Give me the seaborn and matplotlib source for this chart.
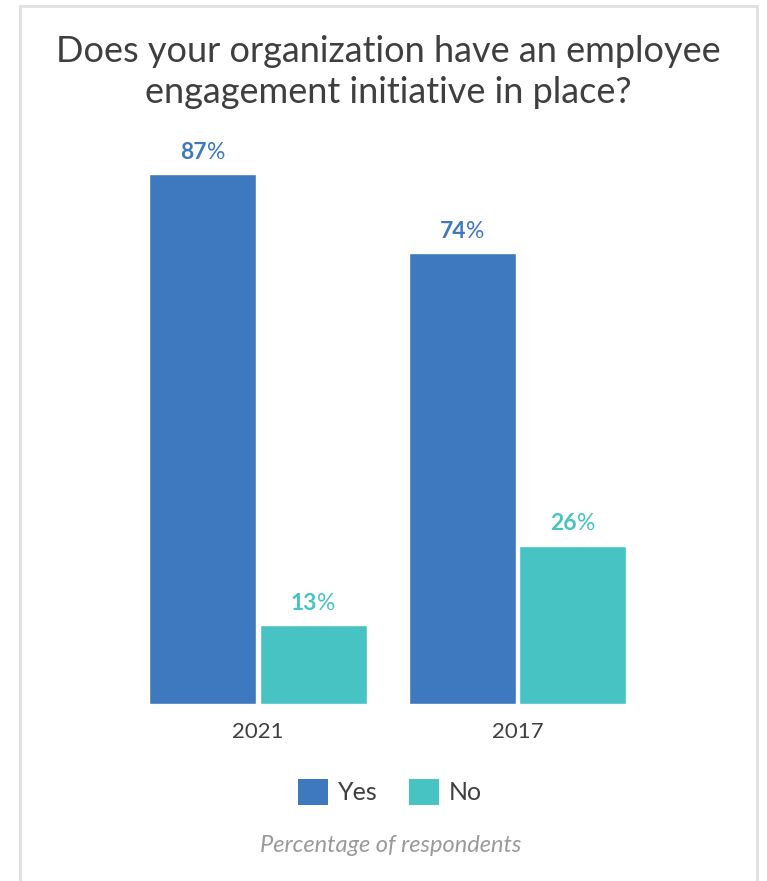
import matplotlib
matplotlib.use("Agg")
import matplotlib.pyplot as plt
import seaborn as sns
import pandas as pd
from matplotlib.patches import Rectangle

years = ["2021", "2017"]
answers = ["Yes", "No"]
yes_values = [87, 74]
no_values = [13, 26]
colors = {"Yes": "#3e79bf", "No": "#47c3c3"}

rows = []
for y, v in zip(years, yes_values):
    rows.append({"year": y, "answer": "Yes", "pct": v})
for y, v in zip(years, no_values):
    rows.append({"year": y, "answer": "No", "pct": v})
df = pd.DataFrame(rows)

sns.set_style("white")
plt.rcParams["font.family"] = ["Lato", "DejaVu Sans"]
TEXT = "#3f3f3f"

W, H, DPI = 767, 881, 100
fig = plt.figure(figsize=(W / DPI, H / DPI), dpi=DPI)
fig.patch.set_facecolor("white")

# border (open at the bottom)
fig.add_artist(Rectangle((20 / W, -0.05), 737 / W, 1.05 - 6 / H, transform=fig.transFigure,
                         fill=False, edgecolor="#e2e2e2", linewidth=2.2))

ax = fig.add_axes([0, 1 - 704 / H, 1, 609 / H])
sns.barplot(data=df, x="year", y="pct", hue="answer", order=years, hue_order=answers,
            palette=colors, width=0.85, gap=0.03, saturation=1, ax=ax, legend=False)
ax.set_xlim(-258 / 259.5, (767 - 258) / 259.5)
ax.set_ylim(0, 100)
for s in ax.spines.values():
    s.set_visible(False)
ax.set_yticks([])
ax.set_xlabel("")
ax.set_ylabel("")
ax.tick_params(axis="x", length=0, pad=13, labelsize=16, labelcolor=TEXT)
ax.patch.set_alpha(0)

# value labels: bold number + regular %
fig.canvas.draw()
r = fig.canvas.get_renderer()
for cont, ans, vals in zip(ax.containers, answers, [yes_values, no_values]):
    for bar, v in zip(cont, vals):
        cx = bar.get_x() + bar.get_width() / 2
        t1 = ax.annotate(f"{v}", xy=(cx, v), xytext=(0, 11), textcoords="offset points",
                         ha="left", va="baseline", fontsize=16.5, fontweight="bold",
                         color=colors[ans])
        t2 = ax.annotate("%", xy=(cx, v), xytext=(0, 11), textcoords="offset points",
                         ha="left", va="baseline", fontsize=16.5, color=colors[ans])
        w1 = t1.get_window_extent(r).width
        w2 = t2.get_window_extent(r).width
        tot = w1 + w2
        k = 72 / DPI
        t1.set_position((-tot / 2 * k, 11))
        t2.set_position(((-tot / 2 + w1) * k, 11))

# title
fig.text(388 / W, 1 - 72 / H, "Does your organization have an employee\nengagement initiative in place?",
         ha="center", va="center", fontsize=26, color=TEXT, linespacing=1.32)

# legend
handles = [Rectangle((0, 0), 1, 1, facecolor=colors[a], edgecolor="none") for a in answers]
fig.legend(handles, answers, loc="center", bbox_to_anchor=(390 / W, 1 - 792 / H), ncol=2,
           frameon=False, fontsize=18, handlelength=1.2, handleheight=1.2, handletextpad=0.4,
           columnspacing=1.25, labelcolor=TEXT, borderaxespad=0)

# footnote
fig.text(391 / W, 1 - 845 / H, "Percentage of respondents", ha="center", va="center",
         fontsize=17, style="italic", color="#9a9a9a")

fig.savefig("out.png", dpi=DPI)
